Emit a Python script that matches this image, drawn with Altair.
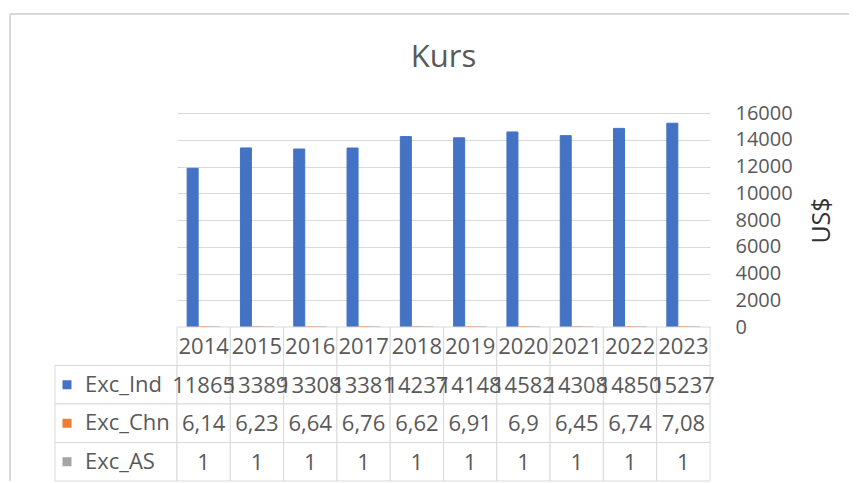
import altair as alt
import pandas as pd

# ---- data ----
years = ["2014", "2015", "2016", "2017", "2018", "2019", "2020", "2021", "2022", "2023"]
series = ["Exc_Ind", "Exc_Chn", "Exc_AS"]
exc_ind = [11865, 13389, 13308, 13381, 14237, 14148, 14582, 14308, 14850, 15237]
exc_chn = [6.14, 6.23, 6.64, 6.76, 6.62, 6.91, 6.9, 6.45, 6.74, 7.08]
exc_as = [1, 1, 1, 1, 1, 1, 1, 1, 1, 1]
colors = ["#4472C4", "#ED7D31", "#A5A5A5"]
y_ticks = [0, 2000, 4000, 6000, 8000, 10000, 12000, 14000, 16000]

values = {"Exc_Ind": exc_ind, "Exc_Chn": exc_chn, "Exc_AS": exc_as}
recs = []
for s in series:
    for yr, v in zip(years, values[s]):
        recs.append({"year": yr, "series": s, "value": v,
                     "label": f"{v:g}".replace(".", ",")})
bars_df = pd.DataFrame(recs)

row_domain = ["hdr"] + series
table_recs = [{"year": yr, "row": "hdr", "label": yr} for yr in years]
table_recs += [{"year": r["year"], "row": r["series"], "label": r["label"]} for r in recs]
table_df = pd.DataFrame(table_recs)
lab_df = pd.DataFrame({"series": series, "col": ["c"] * len(series)})
one = pd.DataFrame({"k": [0]})

W_LAB, W, H_BAR, H_TAB = 122, 533, 214, 154
GRID = "#D9D9D9"
TXT = "#595959"
FONT = "Open Sans"

color_scale = alt.Scale(domain=series, range=colors)
x_year = alt.X("year:N", sort=years,
               scale=alt.Scale(domain=years, paddingInner=0, paddingOuter=0), axis=None)
y_row = alt.Y("row:N", scale=alt.Scale(domain=row_domain, paddingInner=0, paddingOuter=0), axis=None)

# ---- chart frame (decoration) ----
frame_top = alt.Chart(one).mark_rule(color="#D9D9D9", strokeWidth=2).encode(
    x=alt.value(-45), x2=alt.value(794), y=alt.value(-99))
frame_left = alt.Chart(one).mark_rule(color="#D9D9D9", strokeWidth=2).encode(
    x=alt.value(-45), y=alt.value(-99), y2=alt.value(368))
spacer = alt.layer(frame_top, frame_left).properties(width=W_LAB, height=H_BAR)

# ---- bars ----
bars = alt.Chart(bars_df).mark_bar(strokeWidth=1).encode(
    x=x_year,
    xOffset=alt.XOffset("series:N", sort=series,
                        scale=alt.Scale(domain=series, paddingInner=0, paddingOuter=0.92)),
    y=alt.Y("value:Q", scale=alt.Scale(domain=[0, 16000], nice=False),
            axis=alt.Axis(orient="right", values=y_ticks, format="d", grid=True, gridColor=GRID,
                          domain=False, ticks=False, labelPadding=25, labelFontSize=20,
                          labelColor=TXT, labelAlign="left", labelFont=FONT,
                          title="US$", titleAngle=270, titleFontSize=25,
                          titleColor="#333333", titleFontWeight="normal",
                          titleFont=FONT, titlePadding=42)),
    color=alt.Color("series:N", scale=color_scale, legend=None),
    stroke=alt.Stroke("series:N", scale=color_scale, legend=None),
).properties(
    width=W, height=H_BAR,
    title=alt.Title("Kurs", fontSize=31, font=FONT, fontWeight="normal", color=TXT,
                    anchor="middle", frame="group", offset=29),
)

# ---- data table: row labels ----
lab_y = alt.Y("series:N", scale=alt.Scale(domain=row_domain, paddingInner=0, paddingOuter=0), axis=None)
lab_cells = alt.Chart(lab_df).mark_rect(fill="white", stroke=GRID, strokeWidth=1).encode(
    x=alt.X("col:N", scale=alt.Scale(paddingInner=0, paddingOuter=0), axis=None),
    y=lab_y)
lab_sq = alt.Chart(lab_df).mark_square(size=81, opacity=1).encode(
    x=alt.value(12), y=lab_y,
    color=alt.Color("series:N", scale=color_scale, legend=None))
lab_txt = alt.Chart(lab_df).mark_text(align="left", baseline="middle", fontSize=22,
                                      color=TXT, font=FONT).encode(
    x=alt.value(30), y=lab_y, text="series:N")
labels = alt.layer(lab_cells, lab_sq, lab_txt).properties(width=W_LAB, height=H_TAB)

# ---- data table: cells ----
tab_cells = alt.Chart(table_df).mark_rect(fill="white", stroke=GRID, strokeWidth=1).encode(
    x=x_year, y=y_row)
tab_txt = alt.Chart(table_df).mark_text(baseline="middle", fontSize=22, color=TXT,
                                        font=FONT, dy=1).encode(
    x=x_year, y=y_row, text="label:N")
table = alt.layer(tab_cells, tab_txt).properties(width=W, height=H_TAB)

chart = alt.concat(
    spacer, bars, labels, table,
    columns=2, spacing=0, align="each", bounds="flush",
    padding={"left": 1, "top": 5, "right": 0, "bottom": 0},
).configure(font=FONT).configure_view(stroke="transparent", strokeWidth=0)

chart.save("out.html", embed_options={"renderer": "svg", "actions": False})
